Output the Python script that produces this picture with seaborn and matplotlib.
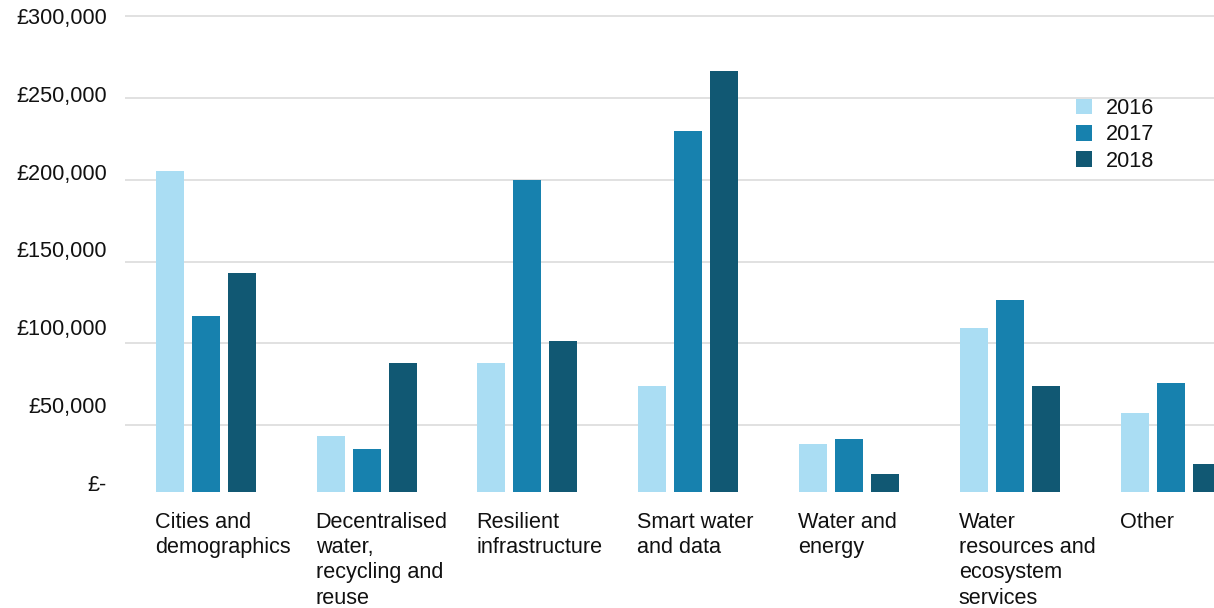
import numpy as np
import pandas as pd
import matplotlib
matplotlib.use("Agg")
import matplotlib.pyplot as plt
import seaborn as sns

categories = [
    "Cities and\ndemographics",
    "Decentralised\nwater,\nrecycling and\nreuse",
    "Resilient\ninfrastructure",
    "Smart water\nand data",
    "Water and\nenergy",
    "Water\nresources and\necosystem\nservices",
    "Other",
]
years = ["2016", "2017", "2018"]
values_2016 = [205000, 43500, 88000, 74000, 38500, 109500, 57500]
values_2017 = [116500, 35500, 200000, 229500, 41500, 126500, 76000]
values_2018 = [143000, 88000, 101500, 266500, 20000, 74000, 26500]
tick_values = [0, 50000, 100000, 150000, 200000, 250000, 300000]
tick_labels = ["£-", "£50,000", "£100,000", "£150,000", "£200,000", "£250,000", "£300,000"]
colors = ["#AADDF3", "#1781AE", "#115873"]

df = pd.DataFrame({
    "category": categories * 3,
    "year": [y for y in years for _ in categories],
    "value": values_2016 + values_2017 + values_2018,
})

sns.set_style("white")
plt.rcParams["font.family"] = ["Liberation Sans", "DejaVu Sans"]
FS = 15.6

W, H = 1214, 608
fig = plt.figure(figsize=(W / 100, H / 100), dpi=100)
ax_left, ax_right, ax_top, ax_bottom = 125, 1214, 10, 492
ax = fig.add_axes([ax_left / W, 1 - ax_bottom / H, (ax_right - ax_left) / W, (ax_bottom - ax_top) / H])

group_width = 0.672
sns.barplot(data=df, x="category", y="value", hue="year", order=categories,
            hue_order=years, palette=colors, width=group_width, gap=0.22,
            saturation=1, ax=ax, linewidth=0, legend=True)

# gridlines at major ticks, labels on (slightly shifted) minor ticks as in the reference
ax.set_yticks(tick_values)
ax.set_yticklabels([""] * len(tick_values))
ax.yaxis.grid(True, which="major", color="#D9D9D9", linewidth=1.1)
ax.yaxis.grid(False, which="minor")
ax.set_axisbelow(True)
label_pos = [15030 + v * 0.9489 for v in tick_values]
ax.set_yticks(label_pos, minor=True)
ax.set_yticklabels(tick_labels, minor=True)
ax.tick_params(axis="y", which="both", length=0, pad=13, labelsize=FS, labelcolor="#111111")

ax.set_xticks(np.arange(len(categories)) - group_width / 2 + 0.019)
ax.set_xticklabels(categories, ha="left", fontsize=FS, color="#111111", linespacing=1.27)
ax.tick_params(axis="x", length=0, pad=14.2)

# axis ranges (after ticks, which would otherwise expand them)
ax.set_xlim(-0.5025, 6.27)
ax.set_ylim(9280, 303541)

ax.set_xlabel("")
ax.set_ylabel("")
for s in ax.spines.values():
    s.set_visible(False)

leg = ax.legend(loc="upper left", bbox_to_anchor=(1076 / W, 1 - 98 / H),
                bbox_transform=fig.transFigure, frameon=False, fontsize=FS,
                handlelength=0.74, handleheight=0.74, handletextpad=0.62,
                labelspacing=0.25, borderpad=0, borderaxespad=0, title=None)
for t in leg.get_texts():
    t.set_color("#111111")

fig.savefig("out.png", dpi=100)
